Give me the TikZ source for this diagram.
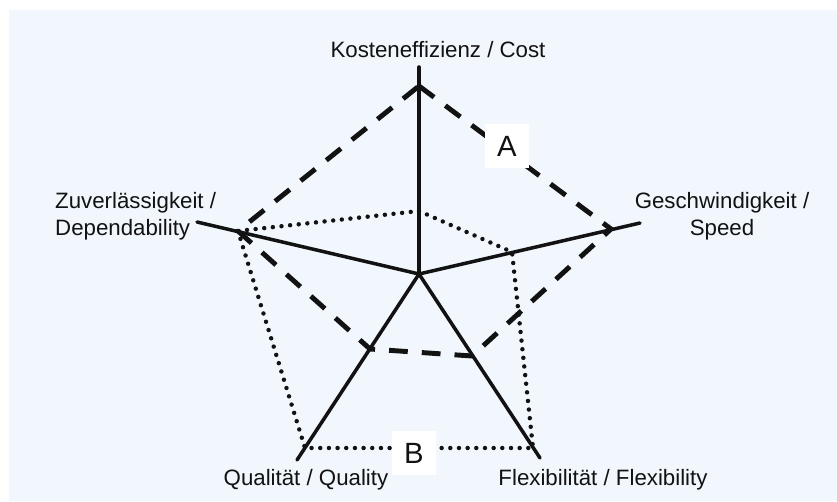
\documentclass[tikz,border=0pt]{standalone}
\usepackage{fontspec}
\setmainfont{Liberation Sans}
\usetikzlibrary{positioning}
\definecolor{sky}{RGB}{241,247,253}
\definecolor{ink}{RGB}{18,18,18}

\begin{document}
\begin{tikzpicture}[x=.03cm,y=-.03cm,
  axis/.style={draw=ink,line width=3pt,line cap=round},
  profA/.style={draw=ink,line width=4.2pt,dash pattern=on 16pt off 12pt},
  profB/.style={draw=ink,line width=3.8pt,line cap=round,dash pattern=on 0pt off 7.4pt},
  lbl/.style={text=ink,inner sep=0pt,font=\fontsize{19}{23}\selectfont},
  tag/.style={fill=white,text=ink,minimum size=38pt,inner sep=0pt,font=\fontsize{25}{25}\selectfont}]
\useasboundingbox (0,0) rectangle (837,501);
\fill[sky] (9,10) rectangle (837,501);
\coordinate (o) at (419,274);
\coordinate (cost) at (419,67); \coordinate (speed) at (640,223);
\coordinate (flex) at (540,458); \coordinate (qual) at (297,460);
\coordinate (dep) at (197,222);
% profile A
\coordinate (a1) at (419,86); \coordinate (a2) at (611,229);
\coordinate (a3) at (472,356); \coordinate (a4) at (370,349);
\coordinate (a5) at (238,231);
\draw[profA] (a1) -- (a2) -- (a3) -- (a4) -- (a5) -- cycle;
% profile B
\coordinate (b1) at (419,211); \coordinate (b2) at (512,252);
\coordinate (b3) at (533,448); \coordinate (b4) at (305,448);
\coordinate (b5) at (238,231);
\draw[profB] (b1) -- (b2) -- (b3) -- (b4) -- (b5) -- cycle;
\foreach \e in {cost,speed,flex,qual,dep} \draw[axis] (o) -- (\e);
\node[tag] (A) at (507,146) {A};
\node[tag] (B) at (414,453) {B};
\node[lbl] (lcost) at (438,50) {Kosteneffizienz / Cost};
\node[lbl,align=center] (lspeed) at (722,216) {Geschwindigkeit /\\Speed};
\node[lbl,align=left,anchor=west] (ldep) at (55,216) {Zuverlässigkeit /\\Dependability};
\node[lbl] (lqual) at (306,480) {Qualität / Quality};
\node[lbl] (lflex) at (603,480) {Flexibilität / Flexibility};
\end{tikzpicture}
\end{document}
